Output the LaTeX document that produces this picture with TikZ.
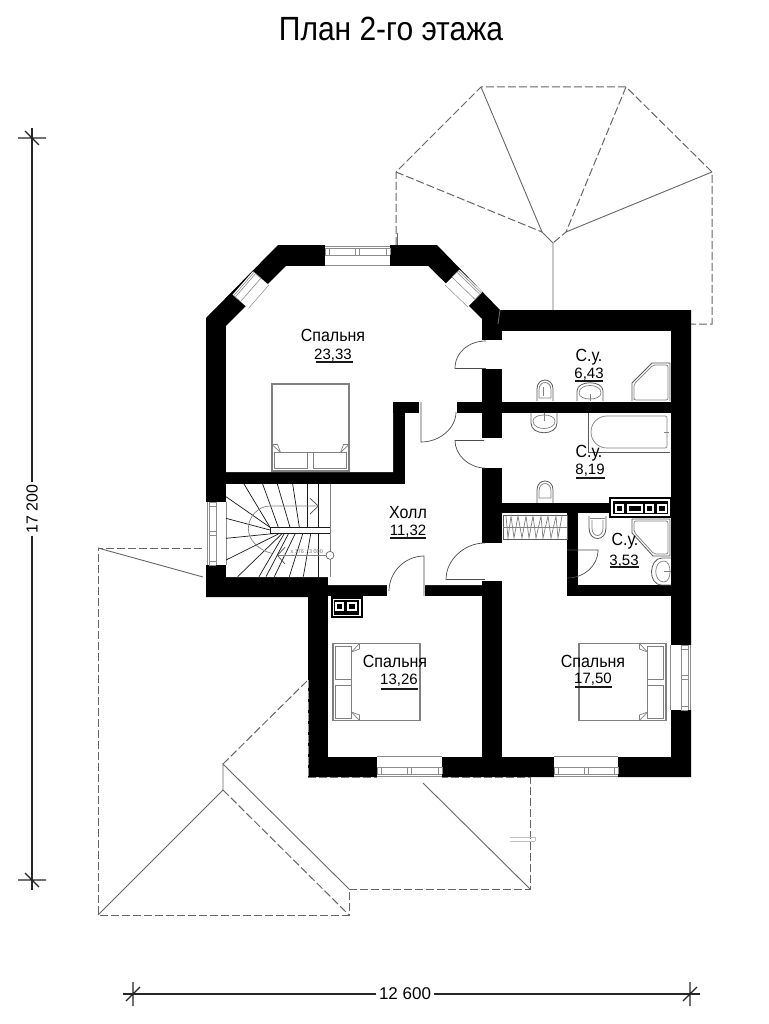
\documentclass[tikz,border=0pt]{standalone}
\usepackage{fontspec}
\setmainfont{Liberation Sans}
\tikzset{
  wallfill/.style={fill=black,draw=none},
  fix/.style={draw=black!50,line width=0.7pt,fill=none},
  fixd/.style={draw=black!65,line width=0.8pt,fill=none},
  bedline/.style={draw=black!50,line width=1.1pt,fill=white},
  roofdash/.style={draw=black!60,line width=1pt,dash pattern=on 8pt off 3pt},
  roofline/.style={draw=black!60,line width=0.9pt},
  door/.style={draw=black!70,line width=0.7pt},
  dimline/.style={draw=black!85,line width=1.2pt},
  tread/.style={draw=black!90,line width=0.7pt},
  lbl/.style={font=\fontsize{16}{16}\selectfont,inner sep=0pt,transform shape,yscale=1.1},
  num/.style={font=\fontsize{15}{15}\selectfont,inner sep=0pt},
  dimtext/.style={font=\fontsize{16}{16}\selectfont,fill=white,inner sep=3pt},
  ul/.style={draw=black!90,line width=1.1pt},
}
% window: local x along the wall, y=0 outer face, y=20 inner face
\newcommand\winplain[4]{%
  \begin{scope}[shift={(#1,#2)},rotate=#3]
    \fill[white] (0,-0.5) rectangle (#4,20.5);
    \draw[black!45,line width=0.5pt] (0,20.5) -- (#4,20.5);
    \draw[black!45,line width=0.6pt] (0,1) -- (#4,1) (0,3) -- (#4,3) (0,10) -- (#4,10);
    \draw[black!45,line width=0.6pt] (0,3) -- (0,10) (#4,3) -- (#4,10);
  \end{scope}}
\newcommand\winpart[4]{%
  \winplain{#1}{#2}{#3}{#4}%
  \begin{scope}[shift={(#1,#2)},rotate=#3]
    \draw[black!45,line width=0.6pt] ({#4/2-2},3) -- ({#4/2-2},10) ({#4/2+2},3) -- ({#4/2+2},10);
    \draw[black!45,line width=0.6pt] (4,3) -- (4,10) ({#4-4},3) -- ({#4-4},10);
  \end{scope}}
% bed: centre at origin, headboard towards local +y
\newcommand\bedpart[3]{%
  \begin{scope}[shift={(#1,#2)},rotate=#3]
    \draw[bedline] (-38.5,-43.5) rectangle (38.5,43.5);
    \draw[fix] (-36,25) rectangle (-3,41);
    \draw[fix] (3,25) rectangle (36,41);
    \draw[fix] (-38.5,17) -- (-30,25) -- (30,25) -- (38.5,17);
    \draw[fix] (-38.5,17) -- (-33,17) -- (-30,25);
    \draw[fix] (38.5,17) -- (33,17) -- (30,25);
  \end{scope}}
\begin{document}
\begin{tikzpicture}[x=1pt,y=-1pt]
\useasboundingbox (0,0) rectangle (768,1024);
\fill[white] (0,0) rectangle (768,1024);

\node[font=\fontsize{30}{30}\selectfont,inner sep=0pt,transform shape,yscale=1.12] (title) at (391,29) {План 2-го этажа};

% ---------- roof outlines
\draw[roofdash] (396,245) -- (396,172) -- (481,87) -- (626,87) -- (712,172) -- (712,324) -- (498,324);
\draw[roofdash] (396,172) -- (542,232);
\draw[roofline] (481,87) -- (542,232) -- (553,243) -- (553,324);
\draw[roofdash] (626,87) -- (566,232) -- (553,243);
\draw[roofline] (712,172) -- (566,232);
\draw[roofdash] (542,331) -- (542,374);
\draw[roofline] (397,233) -- (397,245);

\draw[roofdash] (202,548) -- (98,548) -- (98,915) -- (349,915) -- (349,889) -- (530,889) -- (530,777);
\draw[roofline] (98,548) -- (203,577);
\draw[roofline] (98,915) -- (223,790) -- (223,764) -- (349,889);
\draw[roofdash] (223,790) -- (349,915);
\draw[roofdash] (223,764) -- (308,680);
\draw[roofline] (530,889) -- (423,783);
\draw[black!25,line width=0.6pt] (510,837) -- (535,837) (510,841) -- (535,841) (535,837) -- (535,841);

% ---------- walls
\fill[wallfill] (206,597) -- (206,318) -- (278,245) -- (437,245) -- (500,310) -- (691,310) -- (691,777)
  -- (308,777) -- (308,597) -- cycle;
% interiors
\fill[white] (226,326) -- (286,266) -- (428,266) -- (482,319) -- (482,402) -- (405,402) -- (393,402) -- (393,472) -- (226,472) -- cycle;
\fill[white] (405,413) -- (405,484) -- (226,484) -- (226,577) -- (328,577) -- (328,585) -- (482,585) -- (482,413) -- cycle;
\fill[white] (419,402) rectangle (482,413);
\fill[white] (328,596) rectangle (482,757);
\fill[white] (502,331) rectangle (671,402);
\fill[white] (502,413) rectangle (671,503);
\fill[white] (502,513) rectangle (567,585);
\fill[white] (578,513) rectangle (671,585);
\fill[white] (502,596) rectangle (671,757);
\fill[white] (502,585) rectangle (567,596);
% wall pieces over the whites
\fill[wallfill] (482,319) rectangle (502,340);
\fill[wallfill] (482,369) rectangle (502,438);
\fill[wallfill] (482,468) rectangle (502,543);
\fill[wallfill] (482,581) rectangle (502,757);
\fill[wallfill] (457,402) rectangle (671,413);
\fill[wallfill] (393,402) rectangle (419,413);
\fill[wallfill] (502,503) rectangle (615,513);
\fill[wallfill] (567,513) rectangle (578,549);
\fill[wallfill] (567,579) rectangle (578,596);
\fill[wallfill] (567,585) rectangle (671,596);
% door gaps
\fill[white] (387,584) rectangle (425,597);
\fill[white] (482,340) rectangle (503,369);
\fill[white] (482,438) rectangle (503,468);
\fill[white] (482,543) rectangle (503,581);

% ---------- chimneys
\fill[black] (331,596) rectangle (363,618);
\draw[white,line width=1.2pt] (333.5,599.5) rectangle (360,615.5);
\draw[white,line width=1.2pt] (336,603) rectangle (343,610) (348,603) rectangle (356,610);
\fill[black] (609,497) rectangle (672,518);
\draw[white,line width=1.2pt] (612,500) rectangle (669,515);
\draw[white,line width=1.2pt] (616,505) rectangle (623,512) (628,505) rectangle (642,512) (646,505) rectangle (653,512) (658,505) rectangle (666,512);

% ---------- dashes over walls
\draw[draw=black!55,line width=1pt,dash pattern=on 8pt off 3pt] (308,777) -- (530,777);
\draw[draw=black!45,line width=0.8pt,dash pattern=on 8pt off 3pt] (308,680) -- (308,777);
\draw[roofline] (498,324) -- (500,310);

% ---------- windows
\winpart{325}{245}{0}{65}
\winplain{233}{295}{49}{31}
\winplain{459}{270}{-44}{32}
\winpart{206}{565}{90}{63}
\winpart{442}{777}{180}{65}
\winpart{618}{777}{180}{64}
\winpart{691}{645}{-90}{65}

% ---------- doors
\draw[door] (486,368.5) -- (455,368.5) .. controls (455,352) and (469,341) .. (486,341);
\draw[door] (421,402) -- (421,442) .. controls (440,442) and (456,428) .. (456,412);
\draw[door] (484,440.5) -- (455,440.5) .. controls (455,455) and (469,468) .. (485,468);
\draw[door] (424,596) -- (424,556) .. controls (405,556) and (389,572) .. (389,591);
\draw[door] (485,579.5) -- (446,579.5) .. controls (446,560) and (464,543) .. (485,543);
\draw[door] (567,550) -- (598,550) .. controls (598,566) and (584,578) .. (567,578);

% ---------- beds
\bedpart{310.5}{427.5}{0}
\bedpart{376.5}{682}{-90}
\bedpart{622.5}{682}{90}

% ---------- bathroom fixtures
\draw[fixd] (537,401) -- (537,389) .. controls (537,377) and (553,377) .. (553,389) -- (553,401);
\draw[fix] (539,398) -- (539,390) .. controls (539,380) and (551,380) .. (551,390) -- (551,398) -- cycle;
\draw[fix] (543,396) -- (543,387);
\draw[fixd] (577,401) -- (577,391) .. controls (577,380) and (603,380) .. (603,391) -- (603,401);
\draw[fix] (579,393) .. controls (579,383) and (601,383) .. (601,393) .. controls (601,401) and (579,401) .. (579,393);
\draw[fix] (590,394) -- (590,401);
\draw[fixd] (632,401) -- (632,383) -- (652,363) -- (670,363) -- (670,401);
\draw[fix] (634,398) [rounded corners=2pt] -- (634,384) -- (653,365) -- (668,365) -- (668,400) -- (634,400) -- cycle;

\draw[fixd] (531,413) -- (531,423) .. controls (531,436) and (557,436) .. (557,423) -- (557,413);
\draw[fix] (533,421) .. controls (533,413) and (555,413) .. (555,421) .. controls (555,431) and (533,431) .. (533,421);
\draw[fix] (544,413) -- (544,421);
\draw[fixd] (588,413) -- (588,452) -- (670,452);
\draw[fix] (607,416) -- (665,416) .. controls (667,416) and (667,417) .. (667,419) -- (667,445) .. controls (667,447) and (667,448) .. (665,448) -- (607,448) .. controls (598,448) and (591,441) .. (591,432) .. controls (591,423) and (598,416) .. (607,416) -- cycle;
\draw[fix] (664,432) -- (669,432);

\draw[fixd] (537,503) -- (537,490) .. controls (537,478) and (553,478) .. (553,490) -- (553,503);
\draw[fix] (539,498) -- (539,491) .. controls (539,481) and (551,481) .. (551,491) -- (551,498) -- cycle;

\draw[fixd] (589,516) -- (589,528) .. controls (589,542) and (606,542) .. (606,528) -- (606,516);
\draw[fix] (592,520) -- (592,528) .. controls (592,538) and (603,538) .. (603,528) -- (603,520);
\draw[fix] (590,518) -- (605,518);
\draw[fixd] (632,519) -- (670,519) -- (670,556) -- (653,556) -- (632,533) -- cycle;
\draw[fix,rounded corners=2pt] (634,521) -- (668,521) -- (668,554) -- (654,554) -- (634,532) -- cycle;
\draw[fixd] (671,558) -- (662,558) .. controls (649,558) and (647,585) .. (662,585) -- (671,585);
\draw[fix] (664,561) .. controls (653,561) and (653,582) .. (664,582) .. controls (672,582) and (672,561) .. (664,561);
\draw[fix] (664,571) -- (671,571);

% ---------- wardrobe
\draw[fixd] (503,515) rectangle (567,539);
\draw[fix] (503,527) -- (567,527);
\draw[fix] (506,516) -- (508,538) -- (511,516) -- (514,538) -- (518,516) -- (522,538) -- (526,516) -- (529,538) -- (533,516) -- (536,538) -- (541,516) -- (543,538) -- (548,516) -- (551,538) -- (556,516) -- (558,538) -- (562,516);

% ---------- stairs
\begin{scope}[shift={(190,470)},scale=1/3]
  \draw[fix] (420,42) -- (420,320);
  \draw[tread] (240,172) -- (420,172) (240,190) -- (420,190) (240,172) -- (240,190);
  \foreach \a/\b/\c/\d in {162/42/240/172,218/42/265/172,262/42/300/172,308/42/328/172,352/42/352/172,385/42/385/172,
     108/80/240/172,108/145/240/180,108/205/258/190,108/270/265/192,143/320/275/192,207/320/282/192,228/320/295/192,253/320/315/192,298/320/338/192,340/320/362/192,385/320/385/192}
    \draw[tread] (\a,\b) -- (\c,\d);
  \draw[fix] (385,108) -- (240,108) .. controls (205,108) and (175,140) .. (175,175) .. controls (175,210) and (205,240) .. (245,250);
  \draw[fix] (262,256) -- (410,256);
  \draw[black!70,line width=0.7pt] (360,85) -- (385,108) -- (360,132);
  \draw[black!70,line width=0.7pt] (285,232) -- (262,256) -- (285,282);
  \draw[black!60,fill=white,line width=0.7pt] (420,256) circle (12);
  \node[font=\fontsize{5.5}{6}\selectfont,text=black!55,inner sep=0pt] (stairnote) at (350,246) {х 176 : 3 000};
\end{scope}

% ---------- labels
\node[lbl] (r1) at (333,335) {Спальня};
\node[num] (a1) at (333,355) {23,33};
\draw[ul] (316,362) -- (353,362);
\node[lbl] (r2) at (589,357) {С.у.};
\node[num] (a2) at (589,374) {6,43};
\draw[ul] (575,381) -- (603,381);
\node[lbl] (r3) at (589,453) {С.у.};
\node[num] (a3) at (590,470) {8,19};
\draw[ul] (576,478) -- (605,478);
\node[lbl] (r4) at (625,541) {С.у.};
\node[num] (a4) at (624,561) {3,53};
\draw[ul] (610,567) -- (639,567);
\node[lbl] (r5) at (408,513) {Холл};
\node[num] (a5) at (408,531) {11,32};
\draw[ul] (390,538) -- (426,538);
\node[lbl] (r6) at (395,661) {Спальня};
\node[num] (a6) at (399,680) {13,26};
\draw[ul] (381,689) -- (418,689);
\node[lbl] (r7) at (593,661) {Спальня};
\node[num] (a7) at (593,679) {17,50};
\draw[ul] (575,687) -- (612,687);

% ---------- dimensions
\coordinate (dt) at (32,138);
\coordinate (db) at (32,880);
\coordinate (dl) at (133,994);
\coordinate (dr) at (690,994);
\draw[dimline] (32,128) -- (32,890);
\draw[dimline] (18,138) -- (46,138) (25,131) -- (39,145);
\draw[dimline] (18,880) -- (46,880) (25,873) -- (39,887);
\node[dimtext,rotate=90] (dv) at (32,509) {17 200};
\draw[dimline] (123,994) -- (700,994);
\draw[dimline] (133,982) -- (133,1006) (126,1001) -- (140,987);
\draw[dimline] (690,982) -- (690,1006) (683,1001) -- (697,987);
\node[dimtext,font=\fontsize{17}{17}\selectfont] (dh) at (405,994) {12 600};
\end{tikzpicture}
\end{document}
